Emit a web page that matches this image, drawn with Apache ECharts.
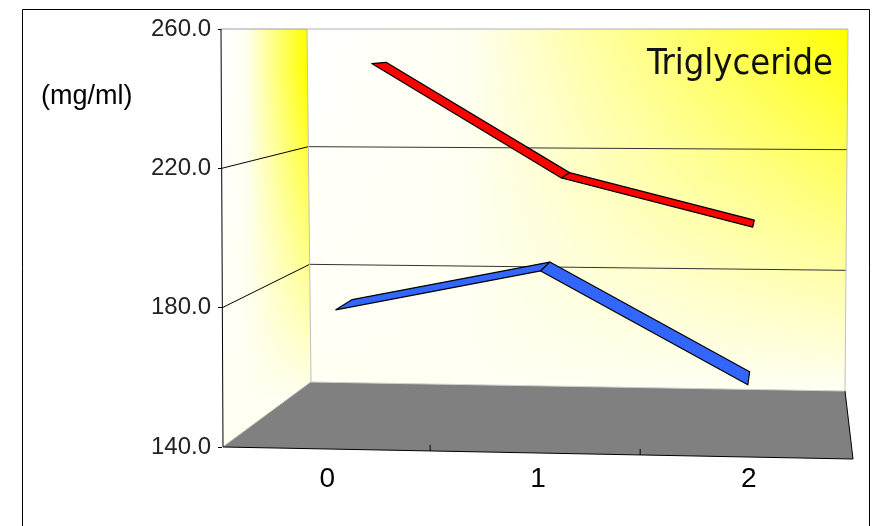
<!DOCTYPE html>
<html>
<head>
<meta charset="utf-8">
<script src="https://cdn.jsdelivr.net/npm/echarts/dist/echarts.min.js"></script>
<style>
html, body { margin: 0; padding: 0; background: #fff; }
#chart { width: 875px; height: 526px; }
</style>
</head>
<body>
<div id="chart"></div>
<script>
const categories = ['0', '1', '2'];
const redValues = [249, 213, 198];
const blueValues = [178, 190, 158];
const valueTicks = [140, 180, 220, 260];
const yMin = 140;
const yMax = 260;
const yStep = 40;
const titleText = 'Triglyceride';
const unitText = '(mg/ml)';

// screen corners of the 3d box, front plane is the cartesian grid
const FRONT = { tl: [221, 29], tr: [857, 29], bl: [223, 447], br: [853, 459] };
const BACK = { tl: [307, 29], tr: [848, 29], bl: [311, 382], br: [845, 391] };
const DEPTH_W = 1 / 0.85;
const WIDTH_K = 0.98;
const FONT = "'Liberation Sans', Arial, sans-serif";

const lerp = (a, b, s) => [a[0] + (b[0] - a[0]) * s, a[1] + (b[1] - a[1]) * s];

function plane(c, u, v) {
    return lerp(lerp(c.bl, c.br, u), lerp(c.tl, c.tr, u), v);
}

// u across categories, v up the value axis, t from front to back (all 0..1)
function project(u, v, t) {
    const uu = u * WIDTH_K / ((1 - u) + u * WIDTH_K);
    const f = t * DEPTH_W / ((1 - t) + t * DEPTH_W);
    return lerp(plane(FRONT, uu, v), plane(BACK, uu, v), f);
}

const line = (a, b, color, width = 1) => ({
    type: 'line',
    shape: { x1: a[0], y1: a[1], x2: b[0], y2: b[1] },
    style: { stroke: color, lineWidth: width },
});

const poly = (points, fill) => ({ type: 'polygon', shape: { points }, style: { fill } });

function renderFrame(params, api) {
    const cs = params.coordSys;
    const vOf = (val) => 1 - (api.coord([0, val])[1] - cs.y) / cs.height;

    const fTL = project(0, 1, 0), fBL = project(0, 0, 0), fBR = project(1, 0, 0);
    const bTL = project(0, 1, 1), bBL = project(0, 0, 1), bTR = project(1, 1, 1), bBR = project(1, 0, 1);

    const side = [fTL, bTL, bBL, fBL];
    const back = [bTL, bTR, bBR, bBL];
    const hGrad = (x1, x2) => ({
        type: 'linear', global: true, x: x1, y: 0, x2: x2, y2: 0,
        colorStops: [{ offset: 0, color: '#ffffff' }, { offset: 0.3, color: '#fffff0' }, { offset: 1, color: '#ffff00' }],
    });
    const vFade = (y1, y2) => ({
        type: 'linear', global: true, x: 0, y: y1, x2: 0, y2: y2,
        colorStops: [{ offset: 0, color: 'rgba(255,255,242,0)' }, { offset: 1, color: 'rgba(255,255,242,1)' }],
    });

    const children = [
        poly(side, hGrad(fTL[0], bTL[0])),
        poly(side, vFade(70, 400)),
        poly(back, hGrad(bTL[0], bTR[0])),
        poly(back, vFade(29, 385)),
        poly([fBL, fBR, bBR, bBL], '#808080'),
    ];

    valueTicks.filter((val) => val > yMin && val < yMax).forEach((val) => {
        const v = vOf(val);
        children.push(line(project(0, v, 0), project(0, v, 1), '#000'));
        children.push(line(project(0, v, 1), project(1, v, 1), '#333'));
    });

    children.push(
        line(fTL, bTL, '#a0a0a0'),
        line(bTL, bTR, '#b0b0b0'),
        line(bTL, bBL, '#c0c0c0'),
        line(bTR, bBR, '#c0c0c0'),
        line(bBL, bBR, '#d0d0d0'),
        line(fBL, bBL, '#a8a8a8'),
        line(fBL, fBR, '#000'),
        line(bBR, fBR, '#000'),
        line(fTL, fBL, '#000'),
    );

    for (let i = 1; i < categories.length; i++) {
        const p = project(i / categories.length, 0, 0);
        children.push(line(p, [p[0], p[1] - 6], '#000'));
    }

    return { type: 'group', children };
}

function ribbon(t0, t1, color) {
    return function (params, api) {
        const cs = params.coordSys;
        const uv = (p) => [(p[0] - cs.x) / cs.width, 1 - (p[1] - cs.y) / cs.height];
        const a = uv(api.coord([api.value(0), api.value(1)]));
        const b = uv(api.coord([api.value(2), api.value(3)]));
        return {
            type: 'polygon',
            shape: { points: [project(a[0], a[1], t0), project(b[0], b[1], t0), project(b[0], b[1], t1), project(a[0], a[1], t1)] },
            style: { fill: color, stroke: '#000', lineWidth: 1.2, lineJoin: 'round' },
        };
    };
}

const segments = (values) => values.slice(0, -1).map((v, i) => [i, v, i + 1, values[i + 1]]);

const chart = echarts.init(document.getElementById('chart'), null, { renderer: 'canvas' });

chart.setOption({
    animation: false,
    backgroundColor: '#ffffff',
    grid: { left: 222, top: 29, width: 632, height: 418 },
    xAxis: {
        type: 'category',
        data: categories,
        axisLine: { show: false },
        axisTick: { show: false },
        axisLabel: { color: '#000', fontSize: 28, fontFamily: FONT, margin: 18 },
        splitLine: { show: false },
    },
    yAxis: {
        type: 'value',
        min: yMin,
        max: yMax,
        interval: yStep,
        axisLine: { show: false },
        axisTick: { show: true, length: 4, lineStyle: { color: '#000' } },
        axisLabel: { color: '#222', fontSize: 24, fontFamily: FONT, margin: 11, formatter: (v) => v.toFixed(1) },
        splitLine: { show: false },
    },
    series: [
        { type: 'custom', name: 'frame', silent: true, clip: false, z: 1, data: [[0, yMin]], renderItem: renderFrame },
        { type: 'custom', name: 'red', silent: true, clip: false, z: 2, encode: { x: [0, 2], y: [1, 3] }, data: segments(redValues), renderItem: ribbon(0.62, 0.84, '#ff0000') },
        { type: 'custom', name: 'blue', silent: true, clip: false, z: 3, encode: { x: [0, 2], y: [1, 3] }, data: segments(blueValues), renderItem: ribbon(0.12, 0.33, '#3366ff') },
    ],
    graphic: [
        { type: 'rect', z: 0, shape: { x: 22.5, y: 9.5, width: 847, height: 540 }, style: { fill: 'none', stroke: '#000', lineWidth: 1 } },
        { type: 'text', z: 100, x: 833, y: 65, style: { text: titleText, align: 'right', verticalAlign: 'middle', fontSize: 36, fontFamily: "'Liberation Sans Narrow', 'DejaVu Sans Condensed', sans-serif", fill: '#111' } },
        { type: 'text', z: 100, x: 41, y: 97, style: { text: unitText, align: 'left', verticalAlign: 'middle', fontSize: 27, fontFamily: FONT, fill: '#000' } },
    ],
});
</script>
</body>
</html>
